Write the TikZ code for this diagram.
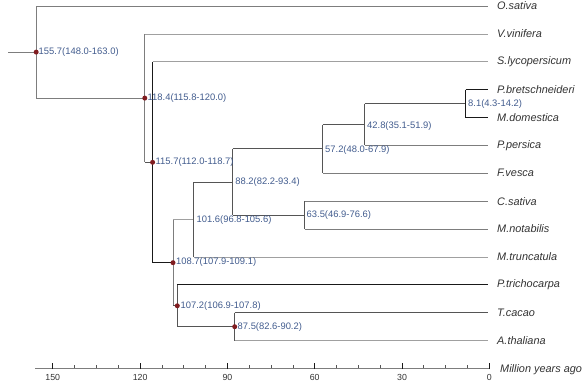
\documentclass[tikz,border=0pt]{standalone}
\usepackage{fontspec}
\setmainfont{Liberation Sans}
\definecolor{labcol}{RGB}{66,92,142}
\definecolor{leafcol}{RGB}{50,50,50}
\definecolor{dotcol}{RGB}{128,28,32}
\definecolor{lgc}{RGB}{160,160,160}
\definecolor{mgc}{RGB}{125,125,125}
\definecolor{dgc}{RGB}{85,85,85}
\definecolor{bkc}{RGB}{25,25,25}
\tikzset{
  lg/.style={draw=lgc,line width=0.8pt},
  mg/.style={draw=mgc,line width=0.8pt},
  dg/.style={draw=dgc,line width=0.9pt},
  bk/.style={draw=bkc,line width=1.15pt},
  lab/.style={anchor=west,inner sep=0pt,text=labcol,font=\fontsize{9.4}{10}\selectfont},
  leaf/.style={anchor=west,inner sep=0pt,text=leafcol,font=\fontsize{10.9}{12}\selectfont\itshape},
  ticklab/.style={inner sep=0pt,text=leafcol,font=\fontsize{8.8}{10}\selectfont},
  dot/.style={circle,fill=dotcol,inner sep=0pt,minimum size=5pt}
}
\begin{document}
\begin{tikzpicture}[x=1pt,y=-1pt]
\useasboundingbox (0,0) rectangle (587,383);
% leaf tips
\coordinate (t0) at (488,6);
\coordinate (t1) at (488,33.9);
\coordinate (t2) at (488,61.8);
\coordinate (t3) at (488,89.6);
\coordinate (t4) at (488,117.5);
\coordinate (t5) at (488,145.4);
\coordinate (t6) at (488,173.3);
\coordinate (t7) at (488,201.2);
\coordinate (t8) at (488,229.0);
\coordinate (t9) at (488,256.9);
\coordinate (t10) at (488,284.8);
\coordinate (t11) at (488,312.7);
\coordinate (t12) at (488,340.6);
% leaf labels
\node[leaf] (l0) at (497,6) {O.sativa};
\node[leaf] (l1) at (497,33.9) {V.vinifera};
\node[leaf] (l2) at (497,61.8) {S.lycopersicum};
\node[leaf] (l3) at (497,89.6) {P.bretschneideri};
\node[leaf] (l4) at (497,117.5) {M.domestica};
\node[leaf] (l5) at (497,145.4) {P.persica};
\node[leaf] (l6) at (497,173.3) {F.vesca};
\node[leaf] (l7) at (497,201.2) {C.sativa};
\node[leaf] (l8) at (497,229.0) {M.notabilis};
\node[leaf] (l9) at (497,256.9) {M.truncatula};
\node[leaf] (l10) at (497,284.8) {P.trichocarpa};
\node[leaf] (l11) at (497,312.7) {T.cacao};
\node[leaf] (l12) at (497,340.6) {A.thaliana};
% internal nodes
\coordinate (n81) at (465.7,103.6);
\coordinate (n428) at (364.7,124.5);
\coordinate (n572) at (322.9,148.9);
\coordinate (n635) at (304.5,215.1);
\coordinate (n882) at (232.6,182.0);
\coordinate (n1016) at (193.6,219.5);
\coordinate (n875) at (234.7,326.7);
\coordinate (n1072) at (177.3,305.8);
\coordinate (n1087) at (173.0,262.7);
\coordinate (n1157) at (152.6,162.3);
\coordinate (n1184) at (144.8,98.1);
\coordinate (n1557) at (36.2,52.1);
\coordinate (rs) at (8,52.1);
% branches
\draw[mg] (rs) -- (n1557);
\draw[mg] (n1557 |- t0) -- (n1557 |- n1184);
\draw[mg] (n1557 |- t0) -- (t0);
\draw[mg] (n1557 |- n1184) -- (n1184);
\draw[mg] (n1184 |- t1) -- (n1184 |- n1157);
\draw[lg] (n1184 |- t1) -- (t1);
\draw[dg] (n1184 |- n1157) -- (n1157);
\draw[bk] (n1157 |- t2) -- (n1157 |- n1087);
\draw[lg] (n1157 |- t2) -- (t2);
\draw[bk] (n1157 |- n1087) -- (n1087);
\draw[mg] (n1087 |- n1016) -- (n1087 |- n1072);
\draw[lg] (n1087 |- n1016) -- (n1016);
\draw[dg] (n1087 |- n1072) -- (n1072);
\draw[dg] (n1016 |- n882) -- (n1016 |- t9);
\draw[dg] (n1016 |- n882) -- (n882);
\draw[lg] (n1016 |- t9) -- (t9);
\draw[dg] (n882 |- n572) -- (n882 |- n635);
\draw[dg] (n882 |- n572) -- (n572);
\draw[dg] (n882 |- n635) -- (n635);
\draw[dg] (n572 |- n428) -- (n572 |- t6);
\draw[dg] (n572 |- n428) -- (n428);
\draw[mg] (n572 |- t6) -- (t6);
\draw[dg] (n428 |- n81) -- (n428 |- t5);
\draw[dg] (n428 |- n81) -- (n81);
\draw[mg] (n428 |- t5) -- (t5);
\draw[bk] (n81 |- t3) -- (n81 |- t4);
\draw[bk] (n81 |- t3) -- (t3);
\draw[bk] (n81 |- t4) -- (t4);
\draw[dg] (n635 |- t7) -- (n635 |- t8);
\draw[mg] (n635 |- t7) -- (t7);
\draw[mg] (n635 |- t8) -- (t8);
\draw[dg] (n1072 |- t10) -- (n1072 |- n875);
\draw[bk] (n1072 |- t10) -- (t10);
\draw[dg] (n1072 |- n875) -- (n875);
\draw[dg] (n875 |- t11) -- (n875 |- t12);
\draw[dg] (n875 |- t11) -- (t11);
\draw[lg] (n875 |- t12) -- (t12);
% dots
\foreach \n in {n1557,n1184,n1157,n1087,n1072,n875}
  \node[dot] at (\n) {};
% node labels
\node[lab] (a1557) at (38.5,52.1) {155.7(148.0-163.0)};
\node[lab] (a1184) at (147.5,97.8) {118.4(115.8-120.0)};
\node[lab] (a1157) at (155.5,162.3) {115.7(112.0-118.7)};
\node[lab] (a1087) at (176,262.5) {108.7(107.9-109.1)};
\node[lab] (a1072) at (180.5,306.5) {107.2(106.9-107.8)};
\node[lab] (a875) at (237.5,327.2) {87.5(82.6-90.2)};
\node[lab] (a1016) at (196.5,220.5) {101.6(96.8-105.6)};
\node[lab] (a882) at (235.2,181.7) {88.2(82.2-93.4)};
\node[lab] (a572) at (325,150) {57.2(48.0-67.9)};
\node[lab] (a428) at (367,125.7) {42.8(35.1-51.9)};
\node[lab] (a81) at (468,103.6) {8.1(4.3-14.2)};
\node[lab] (a635) at (306.5,215.1) {63.5(46.9-76.6)};
% axis
\draw[draw=mgc,line width=0.8pt] (35,368.3) -- (489.3,368.3);
\foreach \k in {0,...,20} {
  \pgfmathsetmacro{\xx}{489.3-2.91*7.5*\k}
  \draw[draw=dgc,line width=0.7pt] (\xx,368.3) -- (\xx,365.2);
}
\foreach \v in {0,30,60,90,120,150} {
  \pgfmathsetmacro{\xx}{489.3-2.91*\v}
  \draw[draw=bkc,line width=0.8pt] (\xx,369) -- (\xx,362.6);
  \node[ticklab] at (\xx,377.2) {\v};
}
\node[leaf] (mya) at (500,369.5) {Million years ago};
\end{tikzpicture}
\end{document}
